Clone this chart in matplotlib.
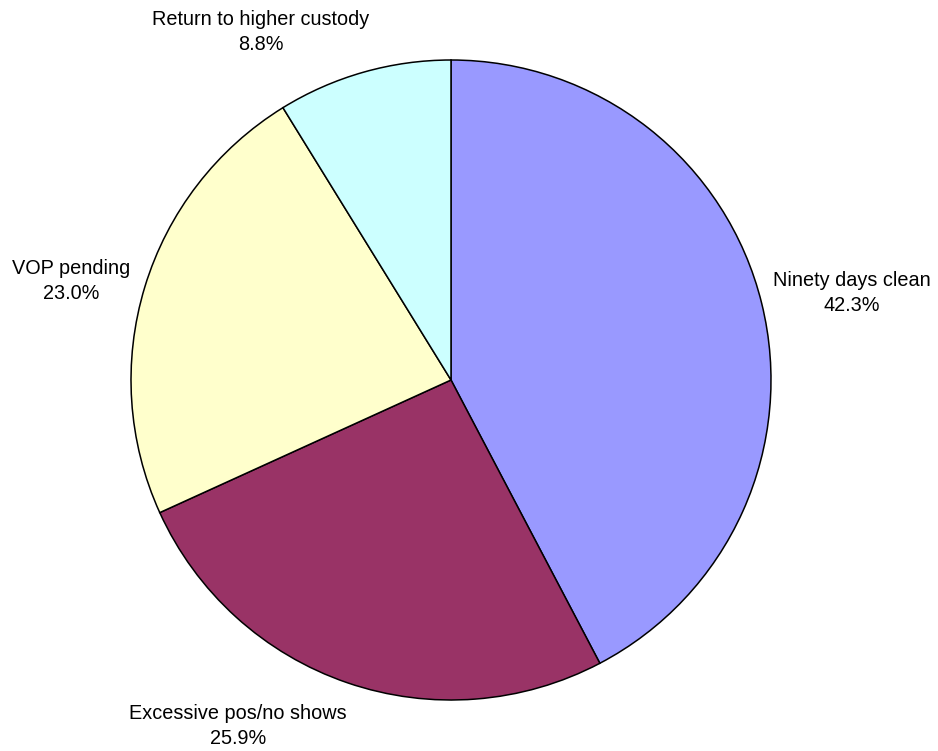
import matplotlib.pyplot as plt

plt.rcParams['font.family'] = ['Liberation Sans', 'DejaVu Sans']

categories = ["Ninety days clean", "Excessive pos/no shows", "VOP pending", "Return to higher custody"]
shares = [42.3, 25.9, 23.0, 8.8]
colors = ["#9999FF", "#993366", "#FFFFCC", "#CCFFFF"]

# label anchor points (pixel space, y measured from the bottom)
label_xy = [(852, 458), (238, 25), (71, 470), (261, 719)]

W, H = 938, 751
fig = plt.figure(figsize=(W / 100, H / 100), dpi=100)
ax = fig.add_axes([0, 0, 1, 1])

wedges, _ = ax.pie(shares, colors=colors, startangle=90, counterclock=False,
                   center=(451, 371), radius=320, frame=True,
                   wedgeprops=dict(edgecolor="black", linewidth=1.1))
ax.set_xlim(0, W)
ax.set_ylim(0, H)
ax.set_aspect("equal")
ax.axis("off")

for name, val, (x, y) in zip(categories, shares, label_xy):
    ax.text(x, y, f"{name}\n{val:.1f}%", ha="center", va="center",
            fontsize=14.3, linespacing=1.4)

fig.savefig("out.png", dpi=100)
